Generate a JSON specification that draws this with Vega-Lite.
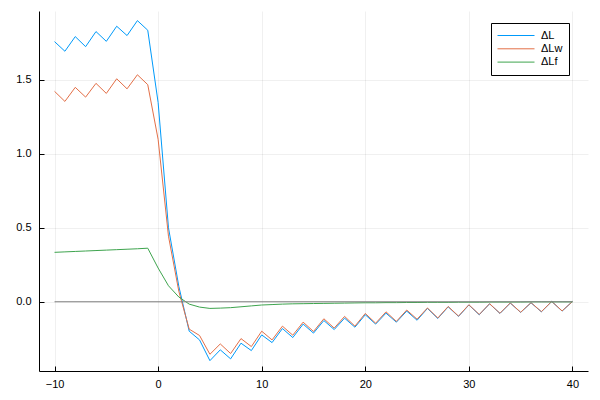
{
  "$schema": "https://vega.github.io/schema/vega-lite/v6.json",
  "width": 549,
  "height": 360,
  "autosize": {"type": "none"},
  "padding": {"left": 39, "top": 11, "right": 12, "bottom": 29},
  "background": "white",
  "config": {
    "view": {"stroke": null},
    "font": "Liberation Sans",
    "axis": {
      "domainColor": "black",
      "domainWidth": 1,
      "tickColor": "black",
      "tickSize": -5,
      "gridColor": "#000000",
      "gridOpacity": 0.06,
      "gridWidth": 1,
      "labelFont": "Liberation Sans",
      "labelFontSize": 11,
      "labelColor": "black",
      "title": null
    }
  },
  "datasets": {
    "series": [
      {"x": -10, "series": "ΔL", "y": 1.758}, {"x": -9, "series": "ΔL", "y": 1.693}, {"x": -8, "series": "ΔL", "y": 1.792}, {"x": -7, "series": "ΔL", "y": 1.724}, {"x": -6, "series": "ΔL", "y": 1.826}, {"x": -5, "series": "ΔL", "y": 1.760}, {"x": -4, "series": "ΔL", "y": 1.862}, {"x": -3, "series": "ΔL", "y": 1.799}, {"x": -2, "series": "ΔL", "y": 1.900}, {"x": -1, "series": "ΔL", "y": 1.835},
      {"x": 0, "series": "ΔL", "y": 1.347}, {"x": 1, "series": "ΔL", "y": 0.500}, {"x": 2, "series": "ΔL", "y": 0.104}, {"x": 3, "series": "ΔL", "y": -0.199}, {"x": 4, "series": "ΔL", "y": -0.258}, {"x": 5, "series": "ΔL", "y": -0.398}, {"x": 6, "series": "ΔL", "y": -0.325}, {"x": 7, "series": "ΔL", "y": -0.386}, {"x": 8, "series": "ΔL", "y": -0.280}, {"x": 9, "series": "ΔL", "y": -0.330},
      {"x": 10, "series": "ΔL", "y": -0.224}, {"x": 11, "series": "ΔL", "y": -0.276}, {"x": 12, "series": "ΔL", "y": -0.181}, {"x": 13, "series": "ΔL", "y": -0.242}, {"x": 14, "series": "ΔL", "y": -0.151}, {"x": 15, "series": "ΔL", "y": -0.212}, {"x": 16, "series": "ΔL", "y": -0.127}, {"x": 17, "series": "ΔL", "y": -0.188}, {"x": 18, "series": "ΔL", "y": -0.111}, {"x": 19, "series": "ΔL", "y": -0.172},
      {"x": 20, "series": "ΔL", "y": -0.088}, {"x": 21, "series": "ΔL", "y": -0.151}, {"x": 22, "series": "ΔL", "y": -0.077}, {"x": 23, "series": "ΔL", "y": -0.138}, {"x": 24, "series": "ΔL", "y": -0.063}, {"x": 25, "series": "ΔL", "y": -0.125}, {"x": 26, "series": "ΔL", "y": -0.045}, {"x": 27, "series": "ΔL", "y": -0.113}, {"x": 28, "series": "ΔL", "y": -0.034}, {"x": 29, "series": "ΔL", "y": -0.099},
      {"x": 30, "series": "ΔL", "y": -0.022}, {"x": 31, "series": "ΔL", "y": -0.088}, {"x": 32, "series": "ΔL", "y": -0.014}, {"x": 33, "series": "ΔL", "y": -0.079}, {"x": 34, "series": "ΔL", "y": -0.009}, {"x": 35, "series": "ΔL", "y": -0.072}, {"x": 36, "series": "ΔL", "y": -0.007}, {"x": 37, "series": "ΔL", "y": -0.068}, {"x": 38, "series": "ΔL", "y": 0.002}, {"x": 39, "series": "ΔL", "y": -0.063}, {"x": 40, "series": "ΔL", "y": 0.002},

      {"x": -10, "series": "ΔLw", "y": 1.422}, {"x": -9, "series": "ΔLw", "y": 1.354}, {"x": -8, "series": "ΔLw", "y": 1.449}, {"x": -7, "series": "ΔLw", "y": 1.383}, {"x": -6, "series": "ΔLw", "y": 1.476}, {"x": -5, "series": "ΔLw", "y": 1.408}, {"x": -4, "series": "ΔLw", "y": 1.507}, {"x": -3, "series": "ΔLw", "y": 1.439}, {"x": -2, "series": "ΔLw", "y": 1.534}, {"x": -1, "series": "ΔLw", "y": 1.467},
      {"x": 0, "series": "ΔLw", "y": 1.098}, {"x": 1, "series": "ΔLw", "y": 0.443}, {"x": 2, "series": "ΔLw", "y": 0.070}, {"x": 3, "series": "ΔLw", "y": -0.185}, {"x": 4, "series": "ΔLw", "y": -0.228}, {"x": 5, "series": "ΔLw", "y": -0.355}, {"x": 6, "series": "ΔLw", "y": -0.285}, {"x": 7, "series": "ΔLw", "y": -0.350}, {"x": 8, "series": "ΔLw", "y": -0.249}, {"x": 9, "series": "ΔLw", "y": -0.303},
      {"x": 10, "series": "ΔLw", "y": -0.199}, {"x": 11, "series": "ΔLw", "y": -0.258}, {"x": 12, "series": "ΔLw", "y": -0.165}, {"x": 13, "series": "ΔLw", "y": -0.226}, {"x": 14, "series": "ΔLw", "y": -0.138}, {"x": 15, "series": "ΔLw", "y": -0.201}, {"x": 16, "series": "ΔLw", "y": -0.115}, {"x": 17, "series": "ΔLw", "y": -0.178}, {"x": 18, "series": "ΔLw", "y": -0.099}, {"x": 19, "series": "ΔLw", "y": -0.165},
      {"x": 20, "series": "ΔLw", "y": -0.079}, {"x": 21, "series": "ΔLw", "y": -0.145}, {"x": 22, "series": "ΔLw", "y": -0.068}, {"x": 23, "series": "ΔLw", "y": -0.133}, {"x": 24, "series": "ΔLw", "y": -0.056}, {"x": 25, "series": "ΔLw", "y": -0.118}, {"x": 26, "series": "ΔLw", "y": -0.042}, {"x": 27, "series": "ΔLw", "y": -0.110}, {"x": 28, "series": "ΔLw", "y": -0.032}, {"x": 29, "series": "ΔLw", "y": -0.097},
      {"x": 30, "series": "ΔLw", "y": -0.020}, {"x": 31, "series": "ΔLw", "y": -0.086}, {"x": 32, "series": "ΔLw", "y": -0.013}, {"x": 33, "series": "ΔLw", "y": -0.078}, {"x": 34, "series": "ΔLw", "y": -0.008}, {"x": 35, "series": "ΔLw", "y": -0.071}, {"x": 36, "series": "ΔLw", "y": -0.006}, {"x": 37, "series": "ΔLw", "y": -0.067}, {"x": 38, "series": "ΔLw", "y": 0.002}, {"x": 39, "series": "ΔLw", "y": -0.062}, {"x": 40, "series": "ΔLw", "y": 0.002},

      {"x": -10, "series": "ΔLf", "y": 0.334}, {"x": -9, "series": "ΔLf", "y": 0.337}, {"x": -8, "series": "ΔLf", "y": 0.340}, {"x": -7, "series": "ΔLf", "y": 0.343}, {"x": -6, "series": "ΔLf", "y": 0.346}, {"x": -5, "series": "ΔLf", "y": 0.349}, {"x": -4, "series": "ΔLf", "y": 0.352}, {"x": -3, "series": "ΔLf", "y": 0.355}, {"x": -2, "series": "ΔLf", "y": 0.358}, {"x": -1, "series": "ΔLf", "y": 0.362},
      {"x": 0, "series": "ΔLf", "y": 0.228}, {"x": 1, "series": "ΔLf", "y": 0.108}, {"x": 2, "series": "ΔLf", "y": 0.032}, {"x": 3, "series": "ΔLf", "y": -0.016}, {"x": 4, "series": "ΔLf", "y": -0.036}, {"x": 5, "series": "ΔLf", "y": -0.045}, {"x": 6, "series": "ΔLf", "y": -0.043}, {"x": 7, "series": "ΔLf", "y": -0.040}, {"x": 8, "series": "ΔLf", "y": -0.034}, {"x": 9, "series": "ΔLf", "y": -0.028},
      {"x": 10, "series": "ΔLf", "y": -0.022}, {"x": 11, "series": "ΔLf", "y": -0.019}, {"x": 12, "series": "ΔLf", "y": -0.016}, {"x": 13, "series": "ΔLf", "y": -0.014}, {"x": 14, "series": "ΔLf", "y": -0.013}, {"x": 15, "series": "ΔLf", "y": -0.012}, {"x": 16, "series": "ΔLf", "y": -0.011}, {"x": 17, "series": "ΔLf", "y": -0.010}, {"x": 18, "series": "ΔLf", "y": -0.009}, {"x": 19, "series": "ΔLf", "y": -0.008},
      {"x": 20, "series": "ΔLf", "y": -0.007}, {"x": 21, "series": "ΔLf", "y": -0.007}, {"x": 22, "series": "ΔLf", "y": -0.006}, {"x": 23, "series": "ΔLf", "y": -0.006}, {"x": 24, "series": "ΔLf", "y": -0.005}, {"x": 25, "series": "ΔLf", "y": -0.005}, {"x": 26, "series": "ΔLf", "y": -0.004}, {"x": 27, "series": "ΔLf", "y": -0.004}, {"x": 28, "series": "ΔLf", "y": -0.004}, {"x": 29, "series": "ΔLf", "y": -0.003},
      {"x": 30, "series": "ΔLf", "y": -0.003}, {"x": 31, "series": "ΔLf", "y": -0.003}, {"x": 32, "series": "ΔLf", "y": -0.002}, {"x": 33, "series": "ΔLf", "y": -0.002}, {"x": 34, "series": "ΔLf", "y": -0.002}, {"x": 35, "series": "ΔLf", "y": -0.002}, {"x": 36, "series": "ΔLf", "y": -0.001}, {"x": 37, "series": "ΔLf", "y": -0.001}, {"x": 38, "series": "ΔLf", "y": -0.001}, {"x": 39, "series": "ΔLf", "y": -0.001}, {"x": 40, "series": "ΔLf", "y": -0.001}
    ],
    "zero": [
      {"x": -10, "y": 0},
      {"x": 40, "y": 0}
    ]
  },
  "layer": [
    {
      "data": {"name": "series"},
      "mark": {"type": "line", "strokeWidth": 1, "clip": true},
      "encoding": {
        "x": {
          "field": "x", "type": "quantitative",
          "scale": {"domain": [-11.5, 41.5], "nice": false, "zero": false},
          "axis": {"values": [-10, 0, 10, 20, 30, 40], "format": "d", "labelPadding": 12}
        },
        "y": {
          "field": "y", "type": "quantitative",
          "scale": {"domain": [-0.468, 1.965], "nice": false, "zero": false},
          "axis": {"values": [0, 0.5, 1, 1.5], "format": ".1f", "labelPadding": 13}
        },
        "color": {
          "field": "series", "type": "nominal",
          "scale": {"domain": ["ΔL", "ΔLw", "ΔLf"], "range": ["#009AFA", "#E36F47", "#3EA44E"]},
          "legend": {
            "title": null,
            "orient": "none",
            "legendX": 452,
            "legendY": 12,
            "strokeColor": "black",
            "fillColor": "white",
            "padding": 6,
            "cornerRadius": 0,
            "symbolType": "stroke",
            "symbolSize": 1369,
            "symbolStrokeWidth": 1,
            "clipHeight": 13,
            "rowPadding": 0.3,
            "labelOffset": 6,
            "labelFont": "Liberation Sans",
            "labelFontSize": 11,
            "labelColor": "black"
          }
        }
      }
    },
    {
      "data": {"name": "zero"},
      "mark": {"type": "line", "color": "#808080", "strokeWidth": 1},
      "encoding": {
        "x": {"field": "x", "type": "quantitative"},
        "y": {"field": "y", "type": "quantitative"}
      }
    }
  ]
}
